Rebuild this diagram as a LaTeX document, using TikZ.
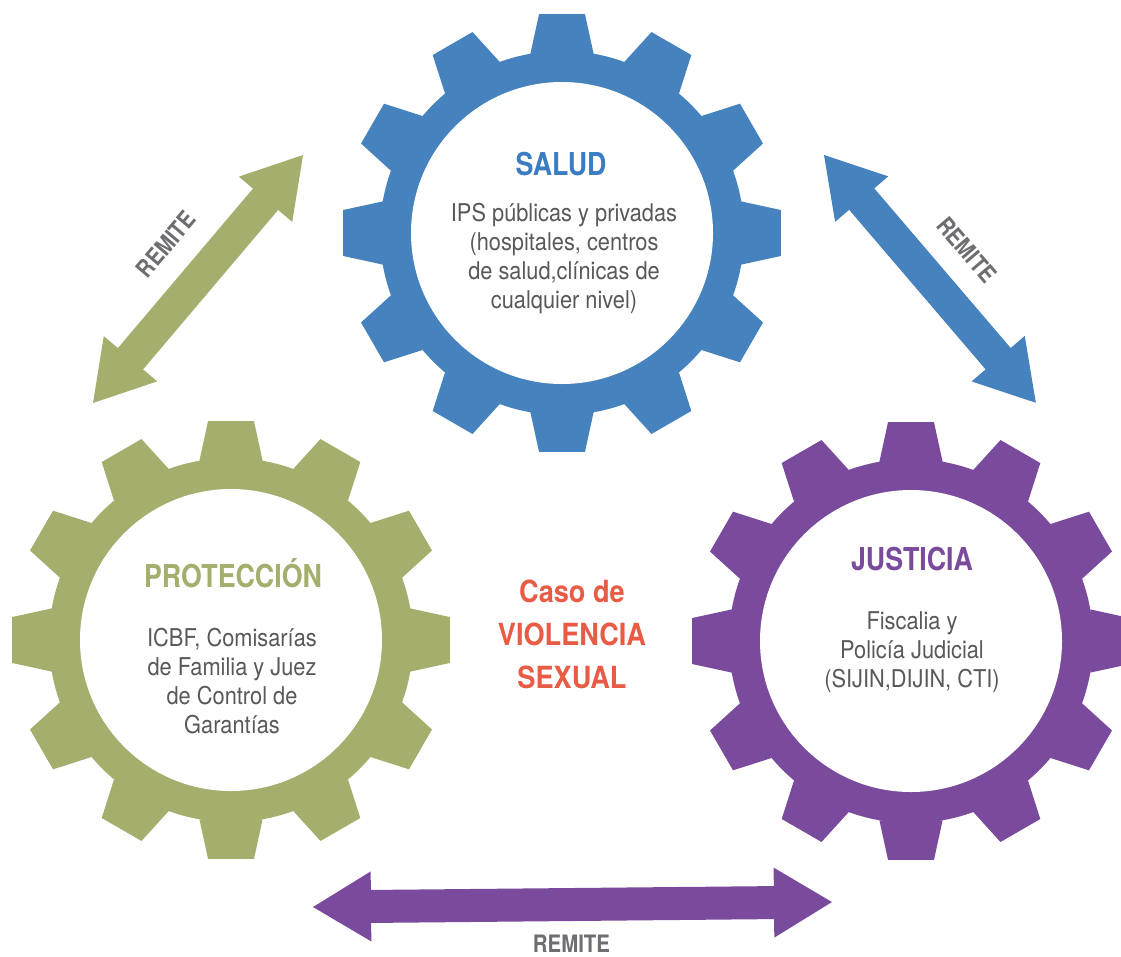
\documentclass[tikz,border=0pt]{standalone}
\usepackage{fontspec}
\setmainfont{TeX Gyre Heros}[FakeStretch=0.85]
\newfontfamily\bodyfont{TeX Gyre Heros}[FakeStretch=0.89]
\newfontfamily\casofont{TeX Gyre Heros}[FakeStretch=0.89]
\definecolor{saludblue}{HTML}{4582BE}
\definecolor{saludtitle}{HTML}{3C7DC2}
\definecolor{protgreen}{HTML}{A5AE6D}
\definecolor{justpurple}{HTML}{7A4A9C}
\definecolor{casored}{HTML}{E85C45}
\definecolor{bodygray}{HTML}{58595B}
\definecolor{remitegray}{HTML}{6D6E71}

% gear: solid ring with 12 trapezoid teeth, white hub as a named node
\newcommand\gear[3]{% name, centre, colour
  \begin{scope}[shift={#2}]
    \fill[#3] (0,0) circle[radius=182pt];
    \foreach \a in {0,30,...,330}
      \fill[#3] (\a-10:182) -- (\a-6:220) -- (\a+6:220) -- (\a+10:182) -- cycle;
  \end{scope}
  \node[hub] (#1) at #2 {};
}

% double-headed block arrow: colour, start, angle, length
\newcommand\blockarrow[4]{%
  \begin{scope}[shift={#2}, rotate=#3]
    \fill[#1] (0,0) -- (58,35) -- (58,16.5) -- ({#4-58},16.5) -- ({#4-58},35)
      -- (#4,0) -- ({#4-58},-35) -- ({#4-58},-16.5) -- (58,-16.5) -- (58,-35) -- cycle;
  \end{scope}
}

\begin{document}
\begin{tikzpicture}[x=1pt, y=-1pt,
  hub/.style={circle, fill=white, minimum size=302pt, inner sep=0pt},
  title/.style={font=\fontsize{31.5}{36}\selectfont\bfseries, anchor=base, inner sep=0pt},
  body/.style={font=\bodyfont\fontsize{24.5}{28.7}\selectfont, text=bodygray, align=center,
    anchor=base, inner sep=0pt},
  remite/.style={font=\fontsize{24}{28}\selectfont\bfseries, text=remitegray, inner sep=0pt}]

\useasboundingbox (0,0) rectangle (1121,956);

% the three gears
\gear{salud}{(562,233)}{saludblue}
\gear{proteccion}{(231,640)}{protgreen}
\gear{justicia}{(911,641)}{justpurple}

% gear captions (multi-line nodes sit on the baseline of their last line)
\node[title, text=saludtitle] (saludT) at (561,175) {SALUD};
\node[body] (saludB) at (564,308)
  {IPS públicas y privadas\\(hospitales, centros\\de salud,clínicas de\\cualquier nivel)};

\node[title, text=protgreen] (protT) at (233,587) {PROTECCIÓN};
\node[body] (protB) at (232,733)
  {ICBF, Comisarías\\de Familia y Juez\\de Control de\\Garantías};

\node[title, text=justpurple] (justT) at (912,570) {JUSTICIA};
\node[body] (justB) at (912,687)
  {Fiscalia y\\Policía Judicial\\(SIJIN,DIJIN, CTI)};

% central caption
\node[font=\casofont\fontsize{30.5}{43}\selectfont\bfseries, text=casored, align=center,
  anchor=base, inner sep=0pt] (caso) at (572,688) {Caso de\\VIOLENCIA\\SEXUAL};

% referral arrows
\coordinate (greenEnd) at (93,403);
\coordinate (blueEnd) at (824,155);
\coordinate (purpleEnd) at (313,907);
\blockarrow{protgreen}{(greenEnd)}{49.74}{325}
\blockarrow{saludblue}{(blueEnd)}{-49.47}{326}
\blockarrow{justpurple}{(purpleEnd)}{0.55}{519}

\node[remite, rotate=49.7] (remiteL) at (166,244) {REMITE};
\node[remite, rotate=-49.5] (remiteR) at (967,250) {REMITE};
\node[remite, anchor=base] (remiteB) at (571.5,952) {REMITE};

\end{tikzpicture}
\end{document}
